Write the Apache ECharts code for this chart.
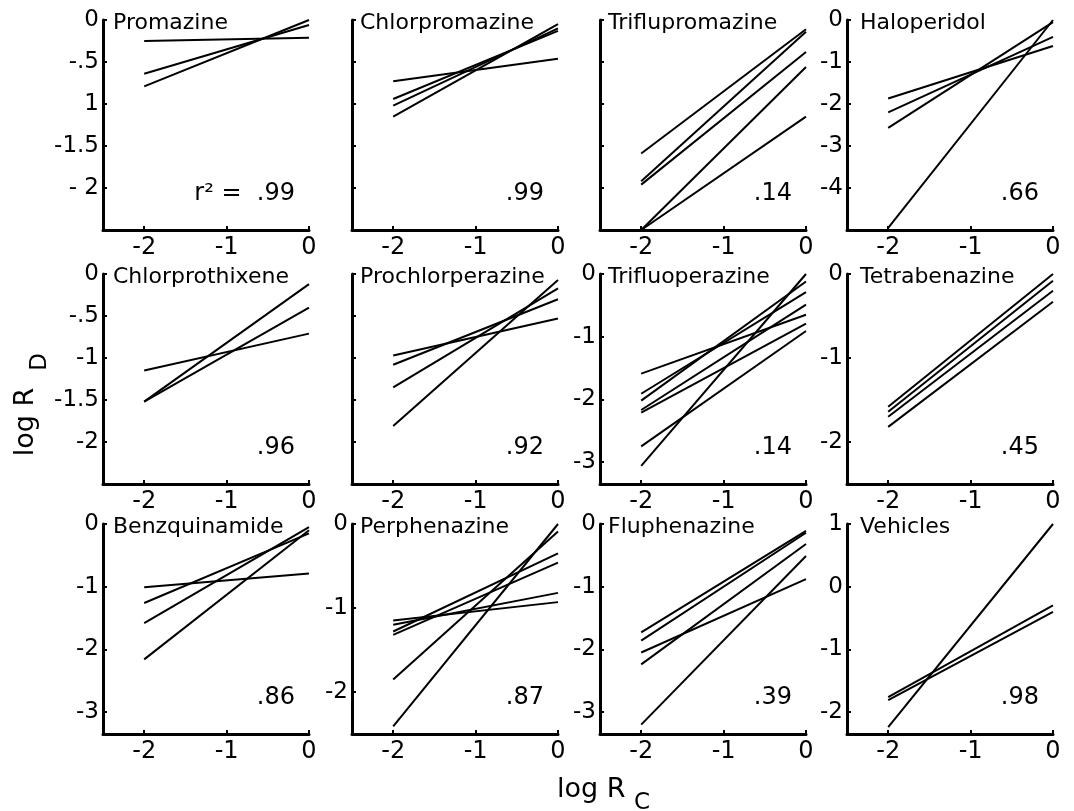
<!DOCTYPE html>
<html><head><meta charset="utf-8">
<script src="https://cdn.jsdelivr.net/npm/echarts@6/dist/echarts.min.js"></script>
<style>html,body{margin:0;padding:0;background:#fff}#c{width:1074px;height:811px}</style>
</head><body><div id="c"></div>
<script>
// ---------------- data ----------------
const panelNames = ['Promazine','Chlorpromazine','Triflupromazine','Haloperidol',
  'Chlorprothixene','Prochlorperazine','Trifluoperazine','Tetrabenazine',
  'Benzquinamide','Perphenazine','Fluphenazine','Vehicles'];
const r2Labels = ['r\u00b2 =  .99','.99','.14','.66','.96','.92','.14','.45','.86','.87','.39','.98'];

const xTickValues = [-2, -1, 0];
const xTickLabels = ['-2', '-1', '0'];
const xEndpoints = [-2, 0];   // each regression line runs from log Rc = -2 to 0

// each line: [log R_D at x=-2, log R_D at x=0]
const promazine        = [[-0.25,-0.21],[-0.64,-0.06],[-0.79,0.0]];
const chlorpromazine   = [[-0.73,-0.46],[-0.94,-0.13],[-1.02,-0.10],[-1.15,-0.05]];
const triflupromazine  = [[-1.59,-0.11],[-1.92,-0.14],[-1.96,-0.38],[-2.5,-0.56],[-2.5,-1.15]];
const haloperidol      = [[-1.87,-0.62],[-2.20,-0.40],[-2.57,-0.05],[-4.95,0.0]];
const chlorprothixene  = [[-1.15,-0.71],[-1.52,-0.12],[-1.52,-0.40]];
const prochlorperazine = [[-0.97,-0.53],[-1.08,-0.30],[-1.35,-0.17],[-1.81,-0.07]];
const trifluoperazine  = [[-1.59,-0.65],[-1.91,-0.29],[-2.02,-0.12],[-2.17,-0.49],[-2.21,-0.79],[-2.75,-0.91],[-3.06,0.0]];
const tetrabenazine    = [[-1.58,0.0],[-1.64,-0.08],[-1.70,-0.20],[-1.82,-0.33]];
const benzquinamide    = [[-1.01,-0.79],[-1.26,-0.15],[-1.58,-0.05],[-2.16,-0.10]];
const perphenazine     = [[-1.15,-0.93],[-1.20,-0.82],[-1.28,-0.35],[-1.32,-0.46],[-1.85,-0.09],[-2.41,0.0]];
const fluphenazine     = [[-1.73,-0.11],[-1.86,-0.14],[-2.05,-0.88],[-2.24,-0.32],[-3.20,-0.51]];
const vehicles         = [[-1.76,-0.30],[-1.81,-0.40],[-2.24,1.0]];
const panelLines = [promazine, chlorpromazine, triflupromazine, haloperidol,
  chlorprothixene, prochlorperazine, trifluoperazine, tetrabenazine,
  benzquinamide, perphenazine, fluphenazine, vehicles];

const yMin = [-2.5,-2.5,-2.5,-5, -2.5,-2.5,-3.35,-2.5, -3.35,-2.5,-3.35,-2.35];
const yMax = [0,0,0,0, 0,0,0,0, 0,0,0,1];
const halfTicks = [0,-0.5,-1,-1.5,-2];
const yTickValues = [halfTicks, halfTicks, halfTicks, [0,-1,-2,-3,-4],
  halfTicks, halfTicks, [0,-1,-2,-3], [0,-1,-2],
  [0,-1,-2,-3], [0,-1,-2], [0,-1,-2,-3], [1,0,-1,-2]];
const yTickLabels = [['0','-.5','1','-1.5','- 2'], ['','','','',''], ['','','','',''], ['0','-1','-2','-3','-4'],
  ['0','-.5','-1','-1.5','-2'], ['','','','',''], ['0','-1','-2','-3'], ['0','-1','-2'],
  ['0','-1','-2','-3'], ['0','-1','-2'], ['0','-1','-2','-3'], ['1','0','-1','-2']];

// ---------------- layout ----------------
const colLeft = [103, 352, 600, 847];
const rowTop = [20, 274, 524];
const W = 206, H = 210;
const titleOffset = [10, 8, 8, 13];
const FONT = '"DejaVu Sans", sans-serif';
const TICK_FS = 23;

function lookup(vals, labels, v) {
  for (let k = 0; k < vals.length; k++) if (Math.abs(vals[k] - v) < 1e-9) return labels[k];
  return '';
}

const grids = [], xAxes = [], yAxes = [], series = [], graphics = [];
panelNames.forEach((name, i) => {
  const c = i % 4, r = Math.floor(i / 4);
  grids.push({left: colLeft[c], top: rowTop[r], width: W, height: H});
  xAxes.push({
    type: 'value', gridIndex: i, min: -2.5, max: 0,
    axisLine: {onZero: false, lineStyle: {color: '#000', width: 3}},
    axisTick: {inside: true, length: 4, lineStyle: {color: '#000', width: 2}, customValues: xTickValues},
    axisLabel: {customValues: xTickValues, formatter: v => lookup(xTickValues, xTickLabels, v),
      color: '#000', fontFamily: FONT, fontSize: 24, margin: 6},
    splitLine: {show: false}
  });
  yAxes.push({
    type: 'value', gridIndex: i, min: yMin[i], max: yMax[i],
    axisLine: {onZero: false, lineStyle: {color: '#000', width: 3}},
    axisTick: {inside: true, length: 4, lineStyle: {color: '#000', width: 2}, customValues: yTickValues[i]},
    axisLabel: {customValues: yTickValues[i], formatter: v => lookup(yTickValues[i], yTickLabels[i], v),
      color: '#000', fontFamily: FONT, fontSize: TICK_FS, margin: 4},
    splitLine: {show: false}
  });
  panelLines[i].forEach(l => {
    series.push({
      type: 'line', xAxisIndex: i, yAxisIndex: i, symbol: 'none', silent: true,
      data: [[xEndpoints[0], l[0]], [xEndpoints[1], l[1]]],
      lineStyle: {color: '#000', width: 2}, clip: true
    });
  });
  graphics.push({type: 'text', x: colLeft[c] + titleOffset[c], y: rowTop[r] + 3,
    style: {text: name, fill: '#000', fontFamily: FONT, fontSize: 22, align: 'left', verticalAlign: 'middle'}});
  graphics.push({type: 'text', x: colLeft[c] + W - 14, y: rowTop[r] + 174,
    style: {text: r2Labels[i], fill: '#000', fontFamily: FONT, fontSize: 24, align: 'right', verticalAlign: 'middle'}});
});

// axis titles
graphics.push({type: 'text', x: 557, y: 790, style: {text: 'log R', fill: '#000', fontFamily: FONT, fontSize: 27, align: 'left', verticalAlign: 'middle'}});
graphics.push({type: 'text', x: 634, y: 803, style: {text: 'C', fill: '#000', fontFamily: FONT, fontSize: 23, align: 'left', verticalAlign: 'middle'}});
graphics.push({type: 'text', x: 26, y: 422, rotation: Math.PI / 2, style: {text: 'log R', fill: '#000', fontFamily: FONT, fontSize: 27, align: 'center', verticalAlign: 'middle'}});
graphics.push({type: 'text', x: 40, y: 362, rotation: Math.PI / 2, style: {text: 'D', fill: '#000', fontFamily: FONT, fontSize: 23, align: 'center', verticalAlign: 'middle'}});

const chart = echarts.init(document.getElementById('c'), null, {renderer: 'canvas'});
chart.setOption({
  animation: false,
  backgroundColor: '#fff',
  grid: grids, xAxis: xAxes, yAxis: yAxes, series: series,
  graphic: graphics
});
</script></body></html>
